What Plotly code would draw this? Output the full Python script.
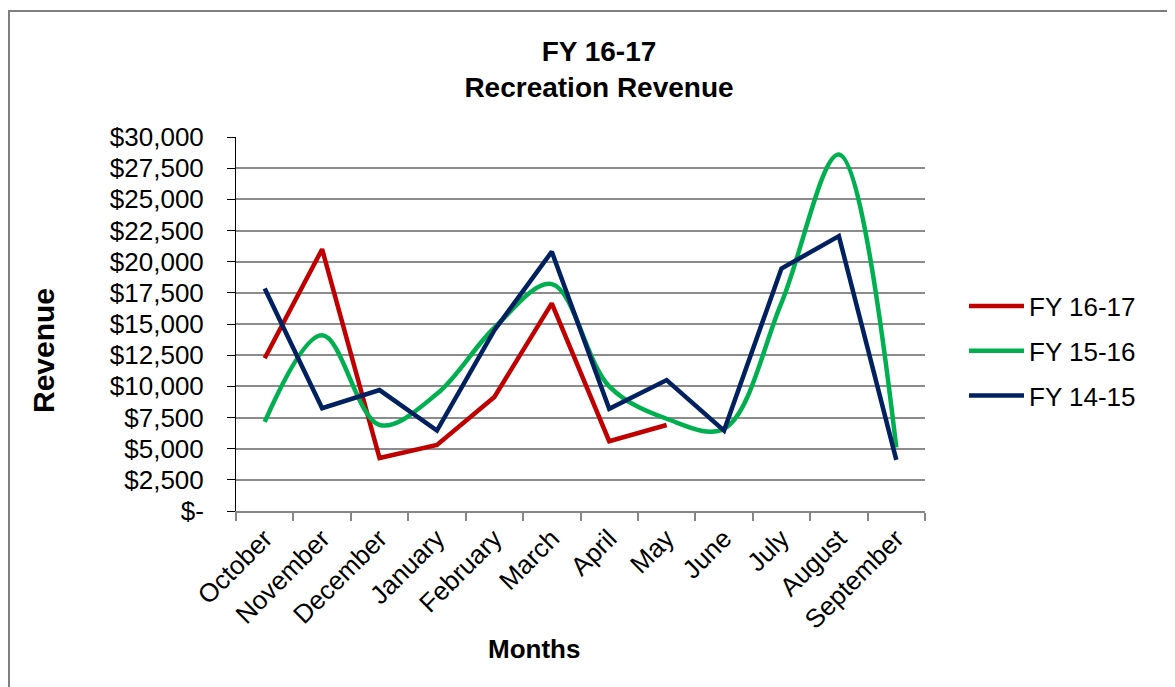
import plotly.graph_objects as go

months = ["October", "November", "December", "January", "February", "March",
          "April", "May", "June", "July", "August", "September"]
fy1617 = [12250, 21000, 4250, 5300, 9150, 16650, 5600, 6900]
fy1516 = [7150, 14100, 6900, 9400, 14700, 18200, 10000, 7400, 6600, 16700, 28600, 5100]
fy1415 = [17850, 8250, 9700, 6450, 14500, 20800, 8200, 10500, 6450, 19450, 22050, 4100]
ytick_vals = [0, 2500, 5000, 7500, 10000, 12500, 15000, 17500, 20000, 22500, 25000, 27500, 30000]
ytick_text = ["$-", "$2,500", "$5,000", "$7,500", "$10,000", "$12,500", "$15,000",
              "$17,500", "$20,000", "$22,500", "$25,000", "$27,500", "$30,000"]

# page has an 8px body margin; work in screen pixels and convert
OFF = 8
W, H = 1175 - OFF, 687 - OFF
L, R, T, B = 236 - OFF, 925 - OFF, 137 - OFF, 511 - OFF

font = "Liberation Sans, Arial, sans-serif"


def px_x(px):
    return (px - OFF - L) / (R - L)


def px_y(py):
    return (B - (py - OFF)) / (B - T)


fig = go.Figure()
fig.add_trace(go.Scatter(x=months[:len(fy1617)], y=fy1617, name="FY 16-17", mode="lines",
                         line=dict(color="#C00000", width=4.5), legendgroup="a"))
fig.add_trace(go.Scatter(x=months, y=fy1516, name="FY 15-16", mode="lines",
                         line=dict(color="#00B050", width=4.5, shape="spline", smoothing=1.0),
                         legendgroup="b"))
fig.add_trace(go.Scatter(x=months, y=fy1415, name="FY 14-15", mode="lines",
                         line=dict(color="#002060", width=4.5), legendgroup="c"))

fig.update_layout(
    width=W, height=H,
    margin=dict(l=L, r=W - R, t=T, b=H - B, pad=0),
    paper_bgcolor="white", plot_bgcolor="white",
    font=dict(family=font, size=26, color="black"),
    title=dict(text="<b>FY 16-17<br>Recreation Revenue</b>", x=(599 - OFF) / W, xanchor="center",
               xref="container", y=1 - (61 - OFF) / H, yanchor="middle", yref="container",
               font=dict(size=28, family=font, color="black")),
    showlegend=True,
    legend=dict(x=px_x(964), xanchor="left", y=px_y(351), yanchor="middle",
                font=dict(size=26, family=font), traceorder="grouped",
                tracegroupgap=8, itemwidth=55, bgcolor="rgba(0,0,0,0)"),
    xaxis=dict(type="category", categoryorder="array", categoryarray=months,
               range=[-0.5, 11.5], tickangle=-45, tickson="boundaries",
               ticks="outside", ticklen=8, tickcolor="#868686", tickwidth=1.5,
               showline=True, linecolor="#868686", linewidth=2, showgrid=False,
               tickfont=dict(size=26, family=font), zeroline=False),
    yaxis=dict(range=[0, 30000], tickvals=ytick_vals, ticktext=ytick_text,
               ticks="outside", ticklen=8, tickcolor="black", tickwidth=1,
               showline=True, linecolor="black", linewidth=1,
               showgrid=True, gridcolor="#8c8c8c", gridwidth=2, zeroline=False,
               tickfont=dict(size=26, family=font), ticklabelstandoff=18),
    annotations=[
        dict(text="<b>Revenue</b>", textangle=-90, x=px_x(43), y=px_y(351),
             xanchor="center", yanchor="middle",
             xref="paper", yref="paper", showarrow=False,
             font=dict(size=30, family=font, color="black")),
        dict(text="<b>Months</b>", x=px_x(534), y=px_y(649),
             xanchor="center", yanchor="middle",
             xref="paper", yref="paper", showarrow=False,
             font=dict(size=26, family=font, color="black")),
    ],
    shapes=[
        dict(type="rect", xref="paper", yref="paper",
             x0=px_x(9), x1=px_x(1200), y0=px_y(720), y1=px_y(11),
             line=dict(color="#7f7f7f", width=2), fillcolor="rgba(0,0,0,0)", layer="below"),
    ],
)

fig.write_html("out.html")
